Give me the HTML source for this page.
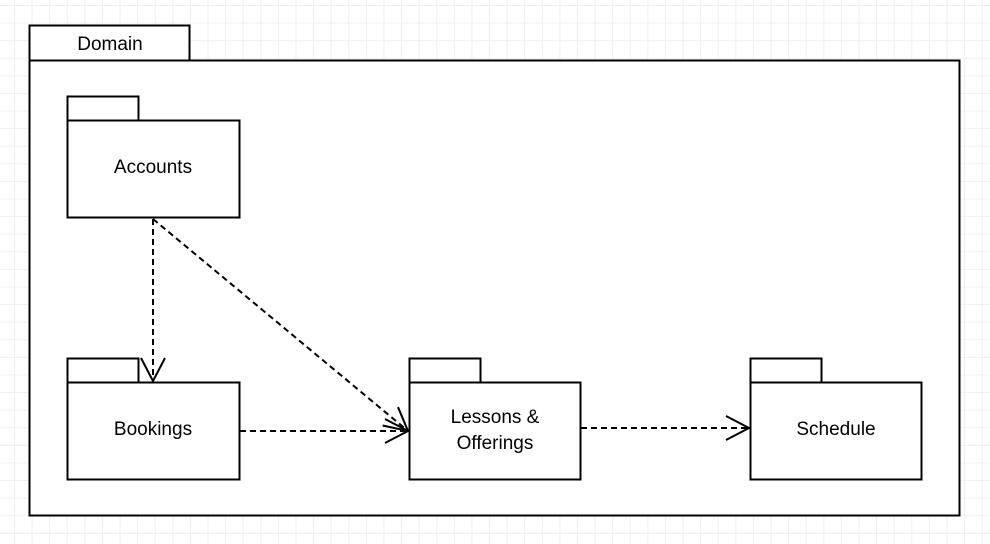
<!DOCTYPE html>
<html><head><style>
html,body{margin:0;padding:0;}
body{width:990px;height:544px;overflow:hidden;background-color:#fff;
background-image:linear-gradient(to right,#efefef 1px,transparent 1px),linear-gradient(to bottom,#efefef 1px,transparent 1px);
background-size:17.6px 17.6px;background-position:14px 5px;}
</style></head><body>
<svg width="990" height="544" style="position:absolute;left:0;top:0" font-family="Liberation Sans, Arial, sans-serif" font-size="19">
<defs>
<marker id="a" markerWidth="30" markerHeight="30" refX="24" refY="13" orient="auto" markerUnits="userSpaceOnUse">
<path d="M1,1 L24,13 L1,25" fill="none" stroke="#000" stroke-width="2"/>
</marker>
</defs>
<g fill="#fff" stroke="#000" stroke-width="2">
<rect x="29.5" y="25.5" width="160" height="35"/>
<rect x="29.5" y="60.5" width="930" height="455"/>
<rect x="67.5" y="96.5" width="71" height="24"/>
<rect x="67.5" y="120.5" width="172" height="97"/>
<rect x="67.5" y="358.5" width="71" height="24"/>
<rect x="67.5" y="382.5" width="172" height="97"/>
<rect x="409.5" y="358.5" width="71" height="24"/>
<rect x="409.5" y="382.5" width="171" height="97"/>
<rect x="750.5" y="358.5" width="71" height="24"/>
<rect x="750.5" y="382.5" width="171" height="97"/>
</g>
<g stroke="#000" stroke-width="2" stroke-dasharray="6,4" fill="none">
<line x1="153" y1="219" x2="153" y2="381" marker-end="url(#a)"/>
<line x1="153" y1="219" x2="408" y2="431" marker-end="url(#a)"/>
<line x1="240" y1="431" x2="408" y2="431" marker-end="url(#a)"/>
<line x1="581" y1="428" x2="749" y2="428" marker-end="url(#a)"/>
</g>
<g text-anchor="middle" fill="#000">
<text x="110" y="50">Domain</text>
<text x="153" y="173">Accounts</text>
<text x="153" y="435">Bookings</text>
<text x="495" y="423">Lessons &amp;</text>
<text x="495" y="449">Offerings</text>
<text x="836" y="435">Schedule</text>
</g>
</svg>
</body></html>
